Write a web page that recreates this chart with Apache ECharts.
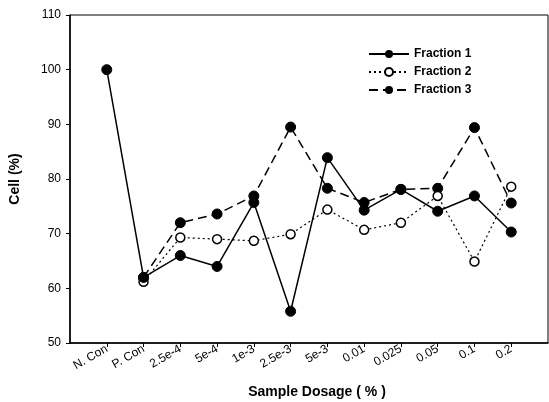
<!DOCTYPE html>
<html>
<head>
<meta charset="utf-8">
<script src="https://cdn.jsdelivr.net/npm/echarts@6/dist/echarts.min.js"></script>
<style>
  html, body { margin: 0; padding: 0; background: #fff; }
  #main { width: 549px; height: 402px; }
</style>
</head>
<body>
<div id="main"></div>
<script>
// 横轴类别
const categories = ['N. Con', 'P. Con', '2.5e-4', '5e-4', '1e-3', '2.5e-3', '5e-3', '0.01', '0.025', '0.05', '0.1', '0.2'];
// 各组数值 (Cell %)
const fraction1 = [100, 62, 66, 64, 75.7, 55.8, 83.9, 74.3, 78.1, 74.1, 76.9, 70.3];
const fraction2 = [null, 61.2, 69.3, 69.0, 68.7, 69.9, 74.4, 70.7, 72.0, 76.9, 64.9, 78.6];
const fraction3 = [null, 62, 72.0, 73.6, 76.9, 89.5, 78.3, 75.7, 78.1, 78.3, 89.4, 75.6];
const yTicks = [50, 60, 70, 80, 90, 100, 110];

const font = 'Arial, "Liberation Sans", Helvetica, sans-serif';
const positions = categories.map((c, i) => i + 1);

function pairs(values) {
    return values.map((v, i) => [i + 1, v]).filter(p => p[1] !== null);
}

let myChart = echarts.init(document.getElementById('main'));
myChart.setOption({
    backgroundColor: '#fff',
    animation: false,
    grid: {
        left: 70, right: 1, top: 15, bottom: 59,
        outerBoundsMode: 'none',
        show: true, borderColor: '#000', borderWidth: 1
    },
    legend: {
        orient: 'vertical',
        left: 363, top: 43,
        itemWidth: 40, itemHeight: 10, itemGap: 6,
        textStyle: { fontFamily: font, fontWeight: 'bold', fontSize: 12, color: '#000' },
        data: ['Fraction 1', 'Fraction 2', 'Fraction 3']
    },
    xAxis: {
        type: 'value',
        min: 0, max: 13, interval: 1,
        name: 'Sample Dosage ( % )',
        nameLocation: 'middle',
        nameGap: 42,
        nameTextStyle: { fontFamily: font, fontWeight: 'bold', fontSize: 14, color: '#000', padding: [0, 0, 0, 16] },
        splitLine: { show: false },
        axisLine: { onZero: false, lineStyle: { color: '#000', width: 1.5 } },
        axisTick: { customValues: positions, length: 4, lineStyle: { color: '#000' } },
        axisLabel: {
            customValues: positions,
            rotate: 30,
            margin: 5,
            fontFamily: font, fontSize: 12, color: '#000',
            formatter: v => categories[v - 1] || ''
        }
    },
    yAxis: {
        type: 'value',
        min: yTicks[0], max: yTicks[yTicks.length - 1], interval: 10,
        name: 'Cell (%)',
        nameLocation: 'middle',
        nameGap: 48,
        nameTextStyle: { fontFamily: font, fontWeight: 'bold', fontSize: 14, color: '#000' },
        splitLine: { show: false },
        axisLine: { show: true, lineStyle: { color: '#000', width: 1.5 } },
        axisTick: { show: true, length: 4, lineStyle: { color: '#000' } },
        axisLabel: { margin: 9, fontFamily: font, fontSize: 12, color: '#000' }
    },
    series: [
        {
            name: 'Fraction 1', type: 'line', z: 4,
            data: pairs(fraction1),
            symbol: 'circle', symbolSize: 10,
            itemStyle: { color: '#000', borderColor: '#000' },
            lineStyle: { color: '#000', width: 1.5, type: 'solid' }
        },
        {
            name: 'Fraction 2', type: 'line', z: 3,
            data: pairs(fraction2),
            symbol: 'circle', symbolSize: 9,
            itemStyle: { color: '#fff', borderColor: '#000', borderWidth: 1.5 },
            lineStyle: { color: '#000', width: 1.2, type: [2, 3] }
        },
        {
            name: 'Fraction 3', type: 'line', z: 2,
            data: pairs(fraction3),
            symbol: 'circle', symbolSize: 10,
            itemStyle: { color: '#000', borderColor: '#000' },
            lineStyle: { color: '#000', width: 1.5, type: [9, 5] }
        }
    ]
});
</script>
</body>
</html>
